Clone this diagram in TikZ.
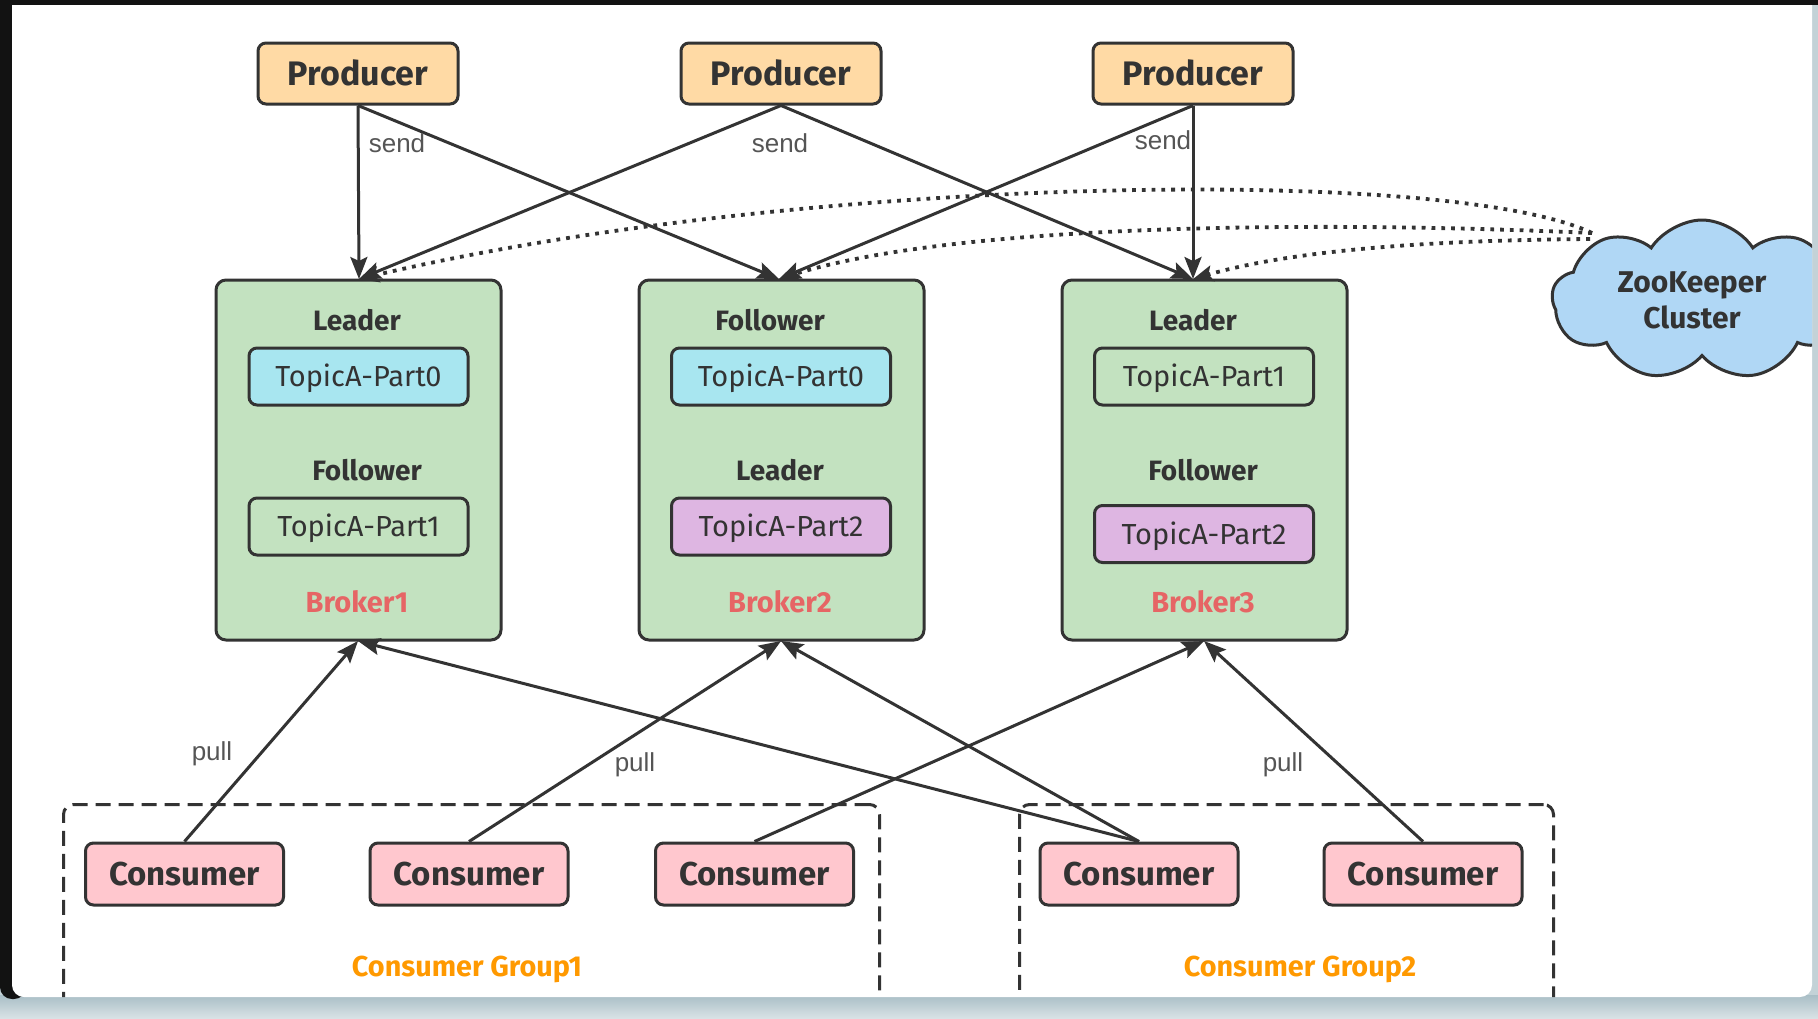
\documentclass[tikz,border=0pt]{standalone}
\usepackage{fontspec}
\setmainfont{Fira Sans}
\newfontfamily\lblfont{Liberation Sans}
\usetikzlibrary{arrows.meta,shapes.symbols}
\definecolor{ink}{HTML}{333333}
\definecolor{prodfill}{HTML}{FFDAA5}
\definecolor{brokfill}{HTML}{C3E2C0}
\definecolor{partcyan}{HTML}{A8E6F0}
\definecolor{partlilac}{HTML}{DEB6E2}
\definecolor{consfill}{HTML}{FFC7CE}
\definecolor{cloudfill}{HTML}{B0D7F5}
\definecolor{brokred}{HTML}{E66565}
\definecolor{grporange}{HTML}{FF9900}
\definecolor{lblgray}{HTML}{555555}
\definecolor{edgegray}{HTML}{C3D2D7}
\definecolor{bandtop}{HTML}{A9BEC6}
\definecolor{bandbot}{HTML}{D8E2E5}
\begin{document}
\begin{tikzpicture}[x=0.5pt,y=-0.5pt,
  box/.style={draw=ink,line width=1.5pt,rounded corners=4pt,inner sep=0pt,text=ink,text depth=0pt},
  prodbox/.style={box,fill=prodfill,minimum width=100pt,minimum height=30.5pt,text height=11.7pt,font=\bfseries\fontsize{17}{18}\selectfont},
  consbox/.style={box,fill=consfill,minimum width=99pt,minimum height=31pt,text height=11.4pt,font=\bfseries\fontsize{16.5}{18}\selectfont},
  brokbox/.style={draw=ink,line width=1.5pt,rounded corners=5pt,fill=brokfill,minimum width=142.5pt,minimum height=180pt,inner sep=0pt},
  partbox/.style={box,minimum width=109.5pt,minimum height=28.5pt,text height=10pt,font=\fontsize{14.5}{16}\selectfont},
  role/.style={anchor=base,inner sep=0pt,text=ink,font=\bfseries\fontsize{14}{16}\selectfont},
  brokname/.style={anchor=base,inner sep=0pt,text=brokred,font=\bfseries\fontsize{14.5}{16}\selectfont},
  grpbox/.style={draw=ink,line width=1.5pt,dash pattern=on 7.5pt off 4pt,rounded corners=5pt,anchor=north west,inner sep=0pt},
  grpname/.style={anchor=base,inner sep=0pt,text=grporange,font=\bfseries\fontsize{14.4}{16}\selectfont},
  arr/.style={draw=ink,line width=1.5pt,-{Stealth[length=11pt,width=8.5pt,inset=2pt]}},
  dotarr/.style={draw=ink,line width=1.9pt,dash pattern=on 1.9pt off 3pt,-{Stealth[length=10pt,width=8pt,inset=2pt]}},
  elbl/.style={inner sep=0pt,text=lblgray,font=\lblfont\fontsize{13}{15}\selectfont},
  zkcloud/.style={cloud,draw=ink,fill=cloudfill,line width=1.5pt,cloud puffs=9,cloud puff arc=115,aspect=1.85,minimum width=150pt,minimum height=80pt,inner sep=0pt,align=center,text=ink,font=\bfseries\fontsize{15}{18}\selectfont},
]
\useasboundingbox (0,0) rectangle (1818,1018);
% screenshot frame
\fill[edgegray] (0,0) rectangle (1818,1018);
\shade[top color=bandtop,bottom color=bandbot] (0,995) rectangle (1818,1018);
\fill[black!93,rounded corners=6pt] (0,-20) rectangle (26,999);
\fill[white,rounded corners=6pt] (12,-20) rectangle (1812,997);
\fill[black!93] (0,0) rectangle (1818,5);

\begin{scope}
\clip[rounded corners=6pt] (12,-20) rectangle (1812,997);

% ZooKeeper cloud
\node[zkcloud] (zk) at (1702,300) {};
\node[inner sep=0pt,align=center,text=ink,font=\bfseries\fontsize{15}{18}\selectfont] (zkt) at (1692,300) {ZooKeeper\\Cluster};

% consumer groups
\node[grpbox,minimum width=408pt,minimum height=110pt] (g1) at (62,803) {};
\node[grpbox,minimum width=267pt,minimum height=110pt] (g2) at (1018,803) {};
\node[grpname] (g1n) at (467,976) {Consumer Group1};
\node[grpname] (g2n) at (1300,976) {Consumer Group2};

% producers
\node[prodbox] (p1) at (358,73.5) {Producer};
\node[prodbox] (p2) at (781,73.5) {Producer};
\node[prodbox] (p3) at (1193,73.5) {Producer};

% brokers
\node[brokbox] (b1) at (358.5,460) {};
\node[brokbox] (b2) at (781.5,460) {};
\node[brokbox] (b3) at (1204.5,460) {};

\node[role] (b1r1) at (357,330) {Leader};
\node[partbox,fill=partcyan] (b1p0) at (358.5,376.5) {TopicA-Part0};
\node[role] (b1r2) at (367,480) {Follower};
\node[partbox] (b1p1) at (358.5,526.5) {TopicA-Part1};
\node[brokname] (b1n) at (357,612) {Broker1};

\node[role] (b2r1) at (770,330) {Follower};
\node[partbox,fill=partcyan] (b2p0) at (781,376.5) {TopicA-Part0};
\node[role] (b2r2) at (780,480) {Leader};
\node[partbox,fill=partlilac] (b2p2) at (781,526.5) {TopicA-Part2};
\node[brokname] (b2n) at (780,612) {Broker2};

\node[role] (b3r1) at (1193,330) {Leader};
\node[partbox] (b3p1) at (1204,376.5) {TopicA-Part1};
\node[role] (b3r2) at (1203,480) {Follower};
\node[partbox,fill=partlilac] (b3p2) at (1204,534) {TopicA-Part2};
\node[brokname] (b3n) at (1203,612) {Broker3};

% consumers
\node[consbox] (c1) at (184.5,874) {Consumer};
\node[consbox] (c2) at (469,874) {Consumer};
\node[consbox] (c3) at (754.5,874) {Consumer};
\node[consbox] (c4) at (1139,874) {Consumer};
\node[consbox] (c5) at (1423,874) {Consumer};

% connector end points
\coordinate (b1t) at (359,279);
\coordinate (b2t) at (779,279);
\coordinate (b3t) at (1193,279);
\coordinate (b1b) at (358,641);
\coordinate (b2b) at (781,641);
\coordinate (b3b) at (1204,641);
\coordinate (zka) at (1592,233);
\coordinate (zkb) at (1590,239);

% send arrows
\draw[arr] (p1.south) -- (b1t);
\draw[arr] (p1.south) -- (b2t);
\draw[arr] (p2.south) -- (b1t);
\draw[arr] (p2.south) -- (b3t);
\draw[arr] (p3.south) -- (b2t);
\draw[arr] (p3.south) -- (b3t);

% zookeeper dotted links
\draw[dotarr] (zka) .. controls (1450,165) and (800,175) .. (b1t);
\draw[dotarr] (zka) .. controls (1300,220) and (950,225) .. (b2t);
\draw[dotarr] (zkb) .. controls (1450,240) and (1300,248) .. (b3t);

% pull arrows
\draw[arr] (c1.north) -- (b1b);
\draw[arr] (c2.north) -- (b2b);
\draw[arr] (c3.north) -- (b3b);
\draw[arr] (c4.north) -- (b1b);
\draw[arr] (c4.north) -- (b2b);
\draw[arr] (c5.north) -- (b3b);

% edge labels
\node[elbl] (s1) at (397,143) {send};
\node[elbl] (s2) at (780,143) {send};
\node[elbl] (s3) at (1163,140) {send};
\node[elbl] (l1) at (212,754) {pull};
\node[elbl] (l2) at (635,765) {pull};
\node[elbl] (l3) at (1283,765) {pull};
\end{scope}
\end{tikzpicture}
\end{document}
